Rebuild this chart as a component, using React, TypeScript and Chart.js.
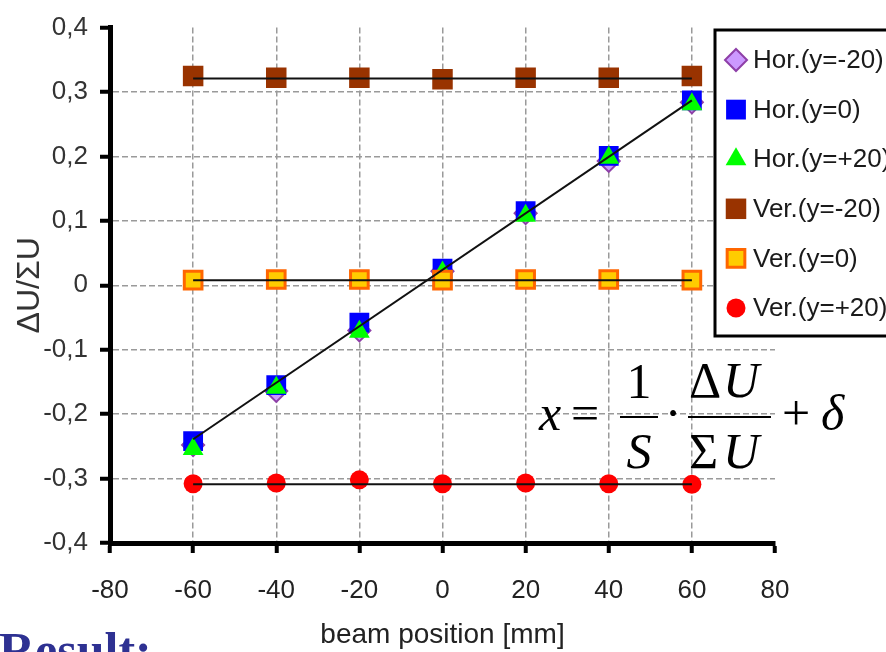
import React, { useEffect, useRef } from 'react';
import { Chart, registerables } from 'chart.js';

Chart.register(...registerables);

// ---- data ----
const positions = [-60, -40, -20, 0, 20, 40, 60];
const horM20 = [-0.248, -0.164, -0.070, 0.022, 0.112, 0.193, 0.284];
const hor0 = [-0.242, -0.155, -0.058, 0.026, 0.115, 0.201, 0.287];
const horP20 = [-0.254, -0.159, -0.072, 0.020, 0.108, 0.198, 0.281];
const verM20 = [0.325, 0.322, 0.322, 0.320, 0.322, 0.322, 0.325];
const ver0 = [0.008, 0.009, 0.009, 0.008, 0.009, 0.009, 0.008];
const verP20 = [-0.308, -0.307, -0.302, -0.308, -0.307, -0.308, -0.309];

const fitX = [-60, 60];
const fitHor = [-0.239, 0.287];
const fitVerM20 = [0.321, 0.321];
const fitVer0 = [0.008, 0.008];
const fitVerP20 = [-0.309, -0.309];

const seriesNames = ['Hor.(y=-20)', 'Hor.(y=0)', 'Hor.(y=+20)', 'Ver.(y=-20)', 'Ver.(y=0)', 'Ver.(y=+20)'];
const xTitle = 'beam position [mm]';
const yTitle = 'ΔU/ΣU';
const resultLabel = 'Result:';

const toPts = (xs: number[], ys: number[]) => xs.map((x, i) => ({ x, y: ys[i] }));

const fmtY = (v: number) => {
  const r = Math.round(v * 10) / 10;
  if (r === 0) return '0';
  return r.toFixed(1).replace('.', ',');
};

function drawMarker(ctx: CanvasRenderingContext2D, style: string, x: number, y: number, r: number, fill: string, stroke: string, lw: number) {
  ctx.beginPath();
  if (style === 'rect') {
    const s = Math.SQRT1_2 * r;
    ctx.rect(x - s, y - s, 2 * s, 2 * s);
  } else if (style === 'rectRot') {
    ctx.moveTo(x, y - r);
    ctx.lineTo(x + r, y);
    ctx.lineTo(x, y + r);
    ctx.lineTo(x - r, y);
    ctx.closePath();
  } else if (style === 'triangle') {
    ctx.moveTo(x, y - r);
    ctx.lineTo(x + r * Math.sin(Math.PI / 3), y + r * 0.5);
    ctx.lineTo(x - r * Math.sin(Math.PI / 3), y + r * 0.5);
    ctx.closePath();
  } else {
    ctx.arc(x, y, r, 0, Math.PI * 2);
  }
  ctx.fillStyle = fill;
  ctx.fill();
  if (lw > 0) {
    ctx.lineWidth = lw;
    ctx.strokeStyle = stroke;
    ctx.stroke();
  }
}

const legendPlugin = {
  id: 'boxLegend',
  afterDraw(chart: any) {
    const ctx: CanvasRenderingContext2D = chart.ctx;
    ctx.save();
    ctx.fillStyle = '#ffffff';
    ctx.fillRect(715, 30, 200, 306);
    ctx.lineWidth = 3;
    ctx.strokeStyle = '#000000';
    ctx.strokeRect(715, 30, 200, 306);
    const rows = chart.data.datasets.filter((d: any) => d.inLegend);
    ctx.font = '26px "Liberation Sans", Arial, sans-serif';
    ctx.textBaseline = 'middle';
    ctx.textAlign = 'left';
    rows.forEach((d: any, i: number) => {
      const cy = 60 + i * 49.6;
      drawMarker(ctx, d.pointStyle, 736, cy, d.pointRadius, d.backgroundColor, d.borderColor, d.borderWidth);
      ctx.fillStyle = '#1a1a1a';
      ctx.fillText(d.label, 753, cy + 1);
    });
    ctx.restore();
  },
};

const formulaPlugin = {
  id: 'formula',
  afterDraw(chart: any) {
    const ctx: CanvasRenderingContext2D = chart.ctx;
    ctx.save();
    ctx.fillStyle = '#000000';
    ctx.textBaseline = 'alphabetic';
    const up = '50px "Liberation Serif", "Times New Roman", serif';
    const it = 'italic 50px "Liberation Serif", "Times New Roman", serif';
    ctx.textAlign = 'left';
    ctx.font = it;
    ctx.fillText('x', 539, 430);
    ctx.font = up;
    ctx.fillText('=', 571, 430);
    ctx.textAlign = 'center';
    ctx.fillText('1', 639, 398);
    ctx.font = it;
    ctx.fillText('S', 639, 468);
    ctx.fillRect(620, 416, 38, 2);
    ctx.font = up;
    ctx.fillText('·', 673, 430);
    ctx.textAlign = 'left';
    ctx.font = up;
    ctx.fillText('Δ', 689, 397);
    ctx.font = it;
    ctx.fillText('U', 723, 397);
    ctx.fillRect(688, 416, 83, 2);
    ctx.font = up;
    ctx.fillText('Σ', 689, 468);
    ctx.font = it;
    ctx.fillText('U', 723, 468);
    ctx.font = up;
    ctx.fillText('+', 782, 430);
    ctx.font = it;
    ctx.fillText('δ', 821, 430);

    ctx.font = 'bold 50px "Liberation Serif", "Times New Roman", serif';
    ctx.fillStyle = '#2E3192';
    ctx.fillText(resultLabel, -1, 667);
    ctx.restore();
  },
};

export default function App() {
  const ref = useRef<HTMLCanvasElement | null>(null);

  useEffect(() => {
    if (!ref.current) return;
    const tickFont = { family: '"Liberation Sans", Arial, sans-serif', size: 26 };
    const gridColor = '#9a9a9a';
    const fitStyle = {
      type: 'line' as const,
      showLine: true,
      pointRadius: 0,
      borderColor: '#111111',
      borderWidth: 2,
      fill: false,
      inLegend: false,
      order: 0,
    };
    const chart = new Chart(ref.current, {
      type: 'scatter',
      data: {
        datasets: [
          { label: seriesNames[0], data: toPts(positions, horM20), pointStyle: 'rectRot', pointRadius: 11, backgroundColor: '#CC99FF', borderColor: '#8E3FA8', borderWidth: 2, inLegend: true, order: 6 } as any,
          { label: seriesNames[1], data: toPts(positions, hor0), pointStyle: 'rect', pointRadius: 14, backgroundColor: '#0000FF', borderColor: '#0000FF', borderWidth: 0, inLegend: true, order: 5 } as any,
          { label: seriesNames[2], data: toPts(positions, horP20), pointStyle: 'triangle', pointRadius: 12, backgroundColor: '#00FF00', borderColor: '#00FF00', borderWidth: 0, inLegend: true, order: 4 } as any,
          { label: seriesNames[3], data: toPts(positions, verM20), pointStyle: 'rect', pointRadius: 14.5, backgroundColor: '#993300', borderColor: '#993300', borderWidth: 0, inLegend: true, order: 3 } as any,
          { label: seriesNames[4], data: toPts(positions, ver0), pointStyle: 'rect', pointRadius: 12.5, backgroundColor: '#FFCC00', borderColor: '#FF6600', borderWidth: 3, inLegend: true, order: 2 } as any,
          { label: seriesNames[5], data: toPts(positions, verP20), pointStyle: 'circle', pointRadius: 9.5, backgroundColor: '#FF0000', borderColor: '#FF0000', borderWidth: 0, inLegend: true, order: 1 } as any,
          { ...fitStyle, label: 'fitHor', data: toPts(fitX, fitHor) } as any,
          { ...fitStyle, label: 'fitVerM20', data: toPts(fitX, fitVerM20) } as any,
          { ...fitStyle, label: 'fitVer0', data: toPts(fitX, fitVer0) } as any,
          { ...fitStyle, label: 'fitVerP20', data: toPts(fitX, fitVerP20) } as any,
        ],
      },
      options: {
        animation: false,
        responsive: false,
        layout: { padding: { left: 0, right: 111, top: 21, bottom: 0 } },
        plugins: { legend: { display: false }, tooltip: { enabled: false } },
        elements: { point: { hoverRadius: 0 } },
        scales: {
          x: {
            type: 'linear',
            min: -80,
            max: 80,
            afterFit: (s: any) => { s.height = 109; },
            ticks: { stepSize: 20, font: tickFont, color: '#222222', padding: 22, maxRotation: 0 },
            grid: {
              color: (c: any) => (c.tick && (c.tick.value === -80 || c.tick.value === 80) ? 'rgba(0,0,0,0)' : gridColor),
              lineWidth: 1.5,
              drawTicks: true,
              tickLength: 10,
              tickColor: '#000000',
              tickWidth: 4,
              tickBorderDash: [],
            } as any,
            border: { display: true, color: '#000000', width: 5, dash: [6, 3] },
            title: { display: true, text: xTitle, font: { family: '"Liberation Sans", Arial, sans-serif', size: 28 }, color: '#222222', padding: { top: 0, bottom: 0 } },
          },
          y: {
            type: 'linear',
            min: -0.4,
            max: 0.4,
            afterFit: (s: any) => { s.width = 110; },
            ticks: { stepSize: 0.1, font: tickFont, color: '#333333', padding: 12, callback: (v: any) => fmtY(Number(v)) },
            grid: {
              color: (c: any) => (c.tick && (Math.abs(c.tick.value - 0.4) < 1e-6 || Math.abs(c.tick.value + 0.4) < 1e-6) ? 'rgba(0,0,0,0)' : gridColor),
              lineWidth: 1.5,
              drawTicks: true,
              tickLength: 10,
              tickColor: '#000000',
              tickWidth: 4,
              tickBorderDash: [],
            } as any,
            border: { display: true, color: '#000000', width: 5, dash: [6, 3] },
            title: { display: true, text: yTitle, font: { family: '"Liberation Sans", Arial, sans-serif', size: 32 }, color: '#333333', padding: { top: 11, bottom: 0 } },
          },
        },
      } as any,
      plugins: [legendPlugin, formulaPlugin],
    });
    return () => chart.destroy();
  }, []);

  return (
    <div style={{ position: 'fixed', left: 0, top: 0, width: 886, height: 652, background: '#ffffff' }}>
      <canvas ref={ref} width={886} height={652} style={{ display: 'block', width: 886, height: 652 }} />
    </div>
  );
}
